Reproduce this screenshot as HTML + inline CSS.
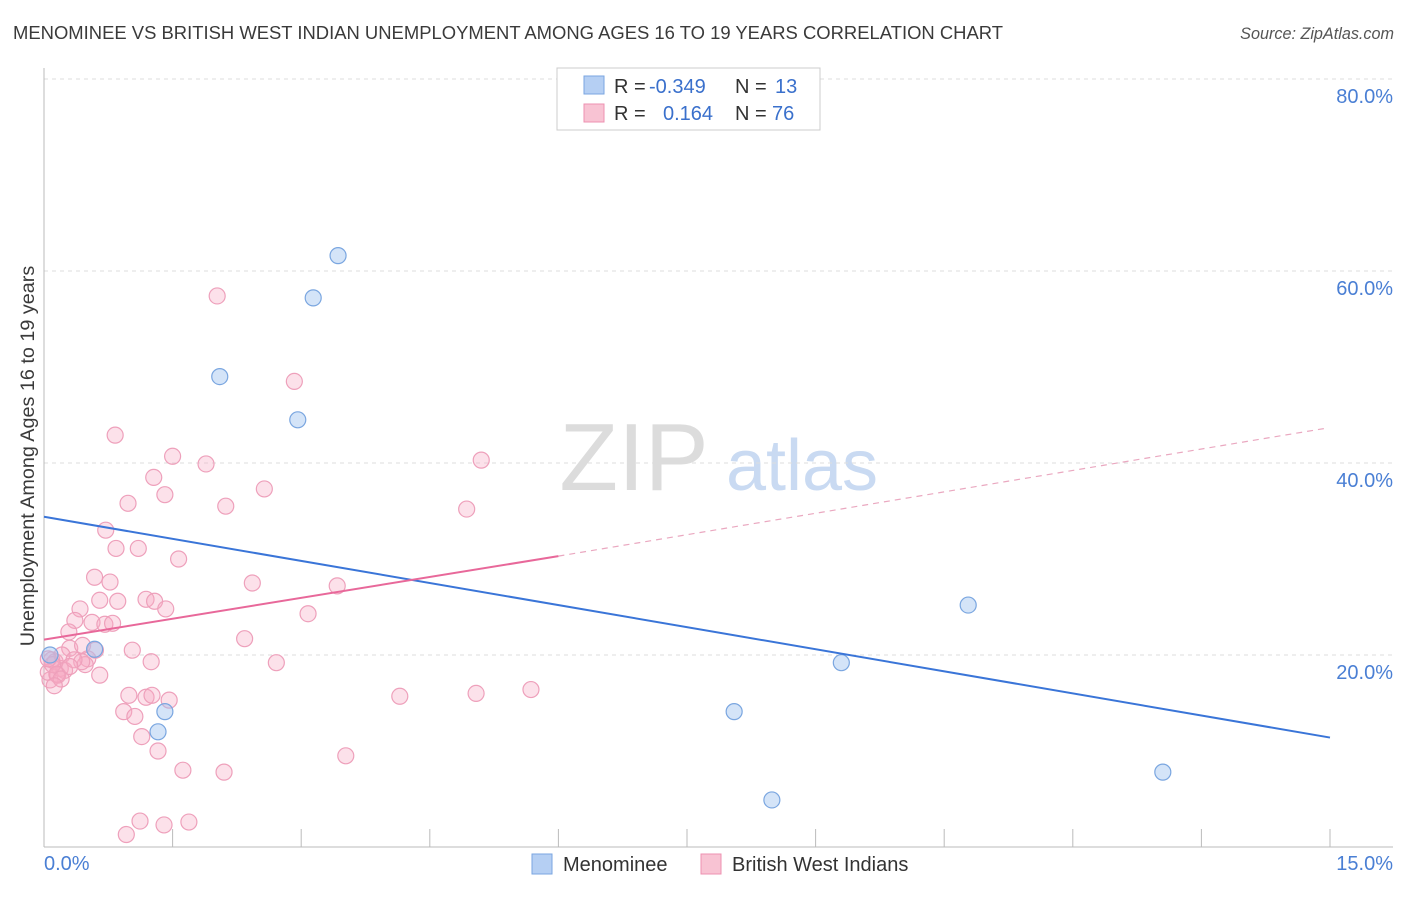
<!DOCTYPE html>
<html><head><meta charset="utf-8">
<style>
body{margin:0;background:#fff;font-family:"Liberation Sans",sans-serif;}
svg text{font-family:"Liberation Sans",sans-serif;}
</style></head>
<body>
<svg id="chart" width="1406" height="892" xmlns="http://www.w3.org/2000/svg">
<text x="13" y="39" font-size="18.4" fill="#3a3a3a" textLength="990" lengthAdjust="spacingAndGlyphs">MENOMINEE VS BRITISH WEST INDIAN UNEMPLOYMENT AMONG AGES 16 TO 19 YEARS CORRELATION CHART</text>
<text x="1394" y="39" font-size="16.2" fill="#555" font-style="italic" text-anchor="end">Source: ZipAtlas.com</text>
<g>
<text x="634" y="490" font-size="96" fill="#dcdcdc" font-family="Liberation Serif, serif" text-anchor="middle">ZIP</text>
<text x="802" y="490" font-size="72" fill="#c9daf2" text-anchor="middle">atlas</text>
</g>
<g id="grid"></g>
<g id="axes"></g>
<g id="marks"></g>
<text transform="translate(34,456) rotate(-90)" font-size="19.8" fill="#3a3a3a" text-anchor="middle">Unemployment Among Ages 16 to 19 years</text>
<g>
<rect x="557" y="68" width="263" height="62" fill="#fff" stroke="#ccc"/>
<rect x="584" y="76" width="20" height="18" fill="#b5cff3" stroke="#7aa6e0"/>
<rect x="584" y="104" width="20" height="18" fill="#f8c3d3" stroke="#ee90b0"/>
<text x="614" y="93" font-size="20" fill="#333">R =</text>
<text x="649" y="93" font-size="20" fill="#3a70cc">-0.349</text>
<text x="735" y="93" font-size="20" fill="#333">N =</text>
<text x="775" y="93" font-size="20" fill="#3a70cc">13</text>
<text x="614" y="120" font-size="20" fill="#333">R =</text>
<text x="663" y="120" font-size="20" fill="#3a70cc">0.164</text>
<text x="735" y="120" font-size="20" fill="#333">N =</text>
<text x="772" y="120" font-size="20" fill="#3a70cc">76</text>
</g>
<g>
<rect x="532" y="854" width="20" height="20" fill="#b5cff3" stroke="#7aa6e0"/>
<text x="563" y="871" font-size="20" fill="#333">Menominee</text>
<rect x="701" y="854" width="20" height="20" fill="#f8c3d3" stroke="#ee90b0"/>
<text x="732" y="871" font-size="20" fill="#333">British West Indians</text>
</g>
</svg>
<script>
const blueX=[3.43,3.14,2.05,2.96,0.59,1.41,1.33,10.78,9.30,8.05,8.49,13.05,0.07];
const blueY=[61.6,57.2,49.0,44.5,20.6,14.1,12.0,25.2,19.2,14.1,4.9,7.8,20.0];
const pinkX=[2.02,2.92,0.83,1.50,1.89,5.10,1.28,1.41,2.57,0.98,2.12,4.93,0.72,0.84,1.10,1.57,0.59,0.77,2.43,3.42,0.65,1.19,1.29,0.86,1.42,0.42,3.08,0.36,0.56,0.71,0.80,0.29,2.34,1.03,0.30,0.51,1.25,2.71,0.13,0.19,0.48,0.65,0.24,0.07,0.99,1.19,1.46,1.26,4.15,5.04,5.68,0.93,1.06,1.14,1.33,3.52,1.62,2.10,1.12,1.40,1.69,0.96,0.05,0.16,0.09,0.21,0.44,0.10,0.15,0.35,0.60,0.20,0.30,0.45,0.12,0.05];
const pinkY=[57.4,48.5,42.9,40.7,39.9,40.3,38.5,36.7,37.3,35.8,35.5,35.2,33.0,31.1,31.1,30.0,28.1,27.6,27.5,27.2,25.7,25.8,25.6,25.6,24.8,24.8,24.3,23.6,23.4,23.2,23.3,22.4,21.7,20.5,20.7,19.6,19.3,19.2,19.3,18.6,19.0,17.9,18.4,17.4,15.8,15.6,15.3,15.8,15.7,16.0,16.4,14.1,13.6,11.5,10.0,9.5,8.0,7.8,2.7,2.3,2.6,1.3,18.2,17.9,19.5,20.0,19.3,19.0,18.0,19.5,20.5,17.5,18.8,21.0,16.8,19.6];
const blueFitX=[0,15];
const blueFitY=[34.4,11.4];
const pinkFitX=[0,6.0,14.94];
const pinkFitY=[21.6,30.3,43.6];
const yTicks=[20,40,60,80];
const yTickLabels=["20.0%","40.0%","60.0%","80.0%"];
const xTicks=[0,1.5,3,4.5,6,7.5,9,10.5,12,13.5,15];

const NS="http://www.w3.org/2000/svg";
const X0=44,X1=1330,Y0=847,Y80=79;
function sx(v){return X0+(X1-X0)*v/15;}
function sy(v){return Y0-(Y0-Y80)*v/80;}
function mk(tag,attrs,parent){const e=document.createElementNS(NS,tag);for(const k in attrs)e.setAttribute(k,attrs[k]);parent.appendChild(e);return e;}
const grid=document.getElementById('grid'),axes=document.getElementById('axes'),marks=document.getElementById('marks');
yTicks.forEach((t,i)=>{
  const l=mk('line',{x1:X0,x2:1393,y1:sy(t),y2:sy(t),stroke:'#ddd','stroke-dasharray':'4,4'},grid);
  
  
  const tx=mk('text',{x:1393,y:sy(t)+24,'font-size':20,fill:'#4a7fd4','text-anchor':'end'},axes);
  tx.textContent=yTickLabels[i];
  
  
});
const ya=mk('line',{x1:X0,x2:X0,y1:68,y2:Y0,stroke:'#bbb'},axes);


const xa=mk('line',{x1:X0,x2:1393,y1:Y0,y2:Y0,stroke:'#bbb'},axes);


xTicks.forEach(t=>{
  const l=mk('line',{x1:sx(t),x2:sx(t),y1:Y0,y2:Y0-18,stroke:'#bbb'},axes);
  
  
});
const xl0=mk('text',{x:X0,y:870,'font-size':20,fill:'#4a7fd4'},axes);xl0.textContent='0.0%';


const xl1=mk('text',{x:1393,y:870,'font-size':20,fill:'#4a7fd4','text-anchor':'end'},axes);xl1.textContent='15.0%';



pinkX.forEach((x,i)=>{
  const c=mk('circle',{cx:sx(x),cy:sy(pinkY[i]),r:8,fill:'rgba(245,170,195,0.35)',stroke:'#eea0bb','stroke-width':1.2},marks);
  
  
});
blueX.forEach((x,i)=>{
  const c=mk('circle',{cx:sx(x),cy:sy(blueY[i]),r:8,fill:'rgba(160,195,240,0.45)',stroke:'#7aa6e0','stroke-width':1.2},marks);
  
  
});
const bl=mk('line',{x1:sx(blueFitX[0]),y1:sy(blueFitY[0]),x2:sx(blueFitX[1]),y2:sy(blueFitY[1]),stroke:'#3a75d8','stroke-width':2},marks);


const pl=mk('line',{x1:sx(pinkFitX[0]),y1:sy(pinkFitY[0]),x2:sx(pinkFitX[1]),y2:sy(pinkFitY[1]),stroke:'#e8689a','stroke-width':2},marks);


const pd=mk('line',{x1:sx(pinkFitX[1]),y1:sy(pinkFitY[1]),x2:sx(pinkFitX[2]),y2:sy(pinkFitY[2]),stroke:'#eaa8c0','stroke-width':1.2,'stroke-dasharray':'6,5'},marks);


</script>
</body></html>
